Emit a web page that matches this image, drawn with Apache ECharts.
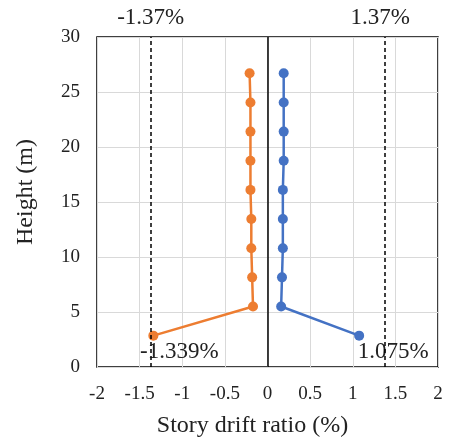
<!DOCTYPE html>
<html><head><meta charset="utf-8">
<script src="https://cdn.jsdelivr.net/npm/echarts@6/dist/echarts.min.js"></script>
<style>html,body{margin:0;padding:0;background:#fff}#c{width:449px;height:437px}</style>
</head><body><div id="c"></div>
<script>
const heights = [2.85, 5.5, 8.15, 10.8, 13.45, 16.1, 18.75, 21.4, 24.05, 26.7];
const negDrift = [-1.339, -0.17, -0.18, -0.19, -0.19, -0.2, -0.2, -0.2, -0.2, -0.21];
const posDrift = [1.075, 0.16, 0.17, 0.18, 0.18, 0.18, 0.19, 0.19, 0.19, 0.19];
const limits = [-1.37, 1.37];
const limitLabels = ['-1.37%', '1.37%'];
const peakLabels = ['-1.339%', '1.075%'];
const xTitle = 'Story drift ratio (%)';
const yTitle = 'Height (m)';

const font = '"Liberation Serif","Times New Roman",serif';
const chart = echarts.init(document.getElementById('c'));
function pts(xs){ return xs.map((x,i)=>[x, heights[i]]); }
function withPeak(xs, lbl, off){
  return pts(xs).map((p,i)=> i===0 ? {value:p, label:{show:true, formatter:lbl, position:'bottom', offset:off, fontFamily:font, fontSize:23, color:'#222'}} : p);
}
chart.setOption({
  animation:false,
  grid:{left:97, right:11, top:37, bottom:70, outerBoundsMode:'none', containLabel:false, show:true, borderColor:'#000', borderWidth:1.5, backgroundColor:'transparent'},
  xAxis:{type:'value', min:-2, max:2, interval:0.5,
    axisLine:{show:false}, axisTick:{show:false},
    axisLabel:{fontFamily:font, fontSize:19, color:'#222', margin:18},
    splitLine:{lineStyle:{color:'#d9d9d9', width:1}},
    name:xTitle, nameLocation:'middle', nameGap:47,
    nameTextStyle:{fontFamily:font, fontSize:24, color:'#222', padding:[0,30,0,0]}},
  yAxis:{type:'value', min:0, max:30, interval:5,
    axisLine:{show:false}, axisTick:{show:false},
    axisLabel:{fontFamily:font, fontSize:19, color:'#222', margin:17},
    splitLine:{lineStyle:{color:'#d9d9d9', width:1}},
    name:yTitle, nameLocation:'middle', nameGap:59,
    nameTextStyle:{fontFamily:font, fontSize:24, color:'#222', padding:[0,0,0,20]}},
  series:[
    {type:'line', data:withPeak(negDrift, peakLabels[0], [26,-5]), symbol:'circle', symbolSize:10,
     lineStyle:{color:'#ED7D31', width:2.5}, itemStyle:{color:'#ED7D31'}, z:3,
     markLine:{silent:true, symbol:'none', animation:false,
       data:[
         {xAxis:limits[0], lineStyle:{type:[4,3], color:'#000', width:1.5}, label:{show:true, position:'end', formatter:limitLabels[0], fontFamily:font, fontSize:23, color:'#222', distance:8}},
         {xAxis:limits[1], lineStyle:{type:[4,3], color:'#000', width:1.5}, label:{show:true, position:'end', formatter:limitLabels[1], fontFamily:font, fontSize:23, color:'#222', distance:8, offset:[-4,0]}},
         {xAxis:0, lineStyle:{type:'solid', color:'#000', width:1.5}, label:{show:false}}
       ]}},
    {type:'line', data:withPeak(posDrift, peakLabels[1], [34,-5]), symbol:'circle', symbolSize:10,
     lineStyle:{color:'#4472C4', width:2.5}, itemStyle:{color:'#4472C4'}, z:3}
  ]
});
</script></body></html>
